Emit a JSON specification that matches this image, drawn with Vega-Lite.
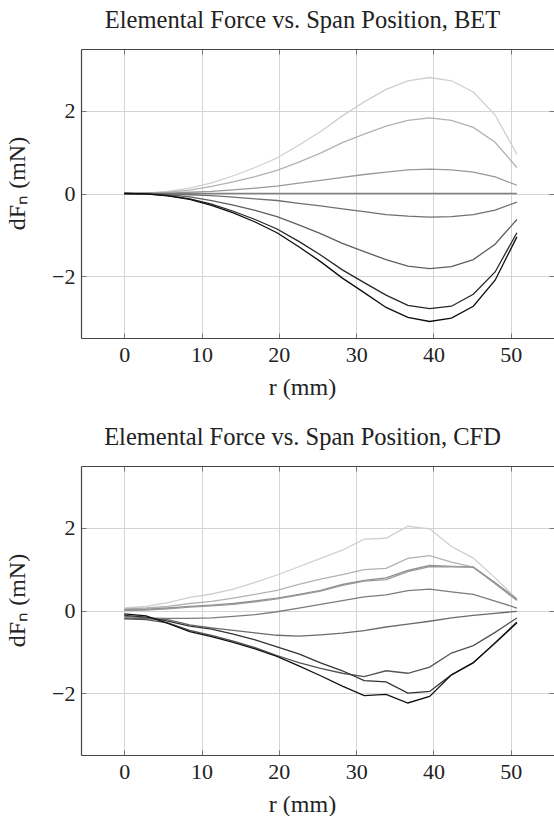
{
"$schema": "https://vega.github.io/schema/vega-lite/v6.json",
"padding": {"left": 5, "top": 7, "right": 0, "bottom": 0},
"background": "white",
"config": {
  "font": "Liberation Serif",
  "view": {"stroke": null},
  "concat": {"spacing": 25},
  "title": {"font": "Liberation Serif", "fontSize": 24.5, "fontWeight": "normal", "color": "#222222", "anchor": "middle", "frame": "group", "baseline": "alphabetic", "offset": 15.5, "dx": -15},
  "axis": {"labelFont": "Liberation Serif", "labelFontSize": 22, "labelColor": "#222222", "titleFont": "Liberation Serif", "titleFontSize": 24, "titleFontWeight": "normal", "titleColor": "#222222", "gridColor": "#d4d4d4", "gridWidth": 1, "domainColor": "#444444", "domainWidth": 1.2, "tickColor": "#777777", "tickSize": -5, "tickWidth": 1}
},
"resolve": {"scale": {"color": "independent"}},
"datasets": {
"bet": [
{"s":"L1","r":0,"f":0},{"s":"L1","r":2.82,"f":0.01},{"s":"L1","r":5.64,"f":0.05},{"s":"L1","r":8.47,"f":0.13},{"s":"L1","r":11.29,"f":0.26},{"s":"L1","r":14.11,"f":0.43},{"s":"L1","r":16.93,"f":0.63},{"s":"L1","r":19.76,"f":0.86},{"s":"L1","r":22.58,"f":1.17},{"s":"L1","r":25.4,"f":1.5},{"s":"L1","r":28.22,"f":1.88},{"s":"L1","r":31.04,"f":2.22},{"s":"L1","r":33.87,"f":2.52},{"s":"L1","r":36.69,"f":2.73},{"s":"L1","r":39.51,"f":2.81},{"s":"L1","r":42.33,"f":2.73},{"s":"L1","r":45.16,"f":2.46},{"s":"L1","r":47.98,"f":1.9},{"s":"L1","r":50.8,"f":0.95},
{"s":"L2","r":0,"f":0},{"s":"L2","r":2.82,"f":0.01},{"s":"L2","r":5.64,"f":0.03},{"s":"L2","r":8.47,"f":0.08},{"s":"L2","r":11.29,"f":0.17},{"s":"L2","r":14.11,"f":0.28},{"s":"L2","r":16.93,"f":0.41},{"s":"L2","r":19.76,"f":0.56},{"s":"L2","r":22.58,"f":0.76},{"s":"L2","r":25.4,"f":0.98},{"s":"L2","r":28.22,"f":1.23},{"s":"L2","r":31.04,"f":1.44},{"s":"L2","r":33.87,"f":1.63},{"s":"L2","r":36.69,"f":1.77},{"s":"L2","r":39.51,"f":1.83},{"s":"L2","r":42.33,"f":1.77},{"s":"L2","r":45.16,"f":1.6},{"s":"L2","r":47.98,"f":1.24},{"s":"L2","r":50.8,"f":0.63},
{"s":"L3","r":0,"f":0},{"s":"L3","r":2.82,"f":0},{"s":"L3","r":5.64,"f":0.01},{"s":"L3","r":8.47,"f":0.03},{"s":"L3","r":11.29,"f":0.05},{"s":"L3","r":14.11,"f":0.09},{"s":"L3","r":16.93,"f":0.13},{"s":"L3","r":19.76,"f":0.18},{"s":"L3","r":22.58,"f":0.25},{"s":"L3","r":25.4,"f":0.32},{"s":"L3","r":28.22,"f":0.39},{"s":"L3","r":31.04,"f":0.46},{"s":"L3","r":33.87,"f":0.52},{"s":"L3","r":36.69,"f":0.57},{"s":"L3","r":39.51,"f":0.59},{"s":"L3","r":42.33,"f":0.57},{"s":"L3","r":45.16,"f":0.52},{"s":"L3","r":47.98,"f":0.4},{"s":"L3","r":50.8,"f":0.2},
{"s":"Z","r":0,"f":0},{"s":"Z","r":2.82,"f":0},{"s":"Z","r":5.64,"f":0},{"s":"Z","r":8.47,"f":0},{"s":"Z","r":11.29,"f":0},{"s":"Z","r":14.11,"f":0},{"s":"Z","r":16.93,"f":0},{"s":"Z","r":19.76,"f":0},{"s":"Z","r":22.58,"f":0},{"s":"Z","r":25.4,"f":0},{"s":"Z","r":28.22,"f":0},{"s":"Z","r":31.04,"f":0},{"s":"Z","r":33.87,"f":0},{"s":"Z","r":36.69,"f":0},{"s":"Z","r":39.51,"f":0},{"s":"Z","r":42.33,"f":0},{"s":"Z","r":45.16,"f":0},{"s":"Z","r":47.98,"f":0},{"s":"Z","r":50.8,"f":0},
{"s":"D1","r":0,"f":0},{"s":"D1","r":2.82,"f":0},{"s":"D1","r":5.64,"f":-0.01},{"s":"D1","r":8.47,"f":-0.03},{"s":"D1","r":11.29,"f":-0.05},{"s":"D1","r":14.11,"f":-0.09},{"s":"D1","r":16.93,"f":-0.13},{"s":"D1","r":19.76,"f":-0.17},{"s":"D1","r":22.58,"f":-0.24},{"s":"D1","r":25.4,"f":-0.3},{"s":"D1","r":28.22,"f":-0.37},{"s":"D1","r":31.04,"f":-0.44},{"s":"D1","r":33.87,"f":-0.51},{"s":"D1","r":36.69,"f":-0.55},{"s":"D1","r":39.51,"f":-0.57},{"s":"D1","r":42.33,"f":-0.56},{"s":"D1","r":45.16,"f":-0.51},{"s":"D1","r":47.98,"f":-0.4},{"s":"D1","r":50.8,"f":-0.21},
{"s":"D2","r":0,"f":0},{"s":"D2","r":2.82,"f":-0.01},{"s":"D2","r":5.64,"f":-0.03},{"s":"D2","r":8.47,"f":-0.08},{"s":"D2","r":11.29,"f":-0.17},{"s":"D2","r":14.11,"f":-0.28},{"s":"D2","r":16.93,"f":-0.41},{"s":"D2","r":19.76,"f":-0.56},{"s":"D2","r":22.58,"f":-0.76},{"s":"D2","r":25.4,"f":-0.97},{"s":"D2","r":28.22,"f":-1.21},{"s":"D2","r":31.04,"f":-1.41},{"s":"D2","r":33.87,"f":-1.6},{"s":"D2","r":36.69,"f":-1.76},{"s":"D2","r":39.51,"f":-1.82},{"s":"D2","r":42.33,"f":-1.77},{"s":"D2","r":45.16,"f":-1.6},{"s":"D2","r":47.98,"f":-1.23},{"s":"D2","r":50.8,"f":-0.63},
{"s":"D3","r":0,"f":0},{"s":"D3","r":2.82,"f":-0.01},{"s":"D3","r":5.64,"f":-0.05},{"s":"D3","r":8.47,"f":-0.13},{"s":"D3","r":11.29,"f":-0.26},{"s":"D3","r":14.11,"f":-0.43},{"s":"D3","r":16.93,"f":-0.63},{"s":"D3","r":19.76,"f":-0.86},{"s":"D3","r":22.58,"f":-1.16},{"s":"D3","r":25.4,"f":-1.49},{"s":"D3","r":28.22,"f":-1.85},{"s":"D3","r":31.04,"f":-2.16},{"s":"D3","r":33.87,"f":-2.46},{"s":"D3","r":36.69,"f":-2.71},{"s":"D3","r":39.51,"f":-2.79},{"s":"D3","r":42.33,"f":-2.73},{"s":"D3","r":45.16,"f":-2.44},{"s":"D3","r":47.98,"f":-1.9},{"s":"D3","r":50.8,"f":-0.95},
{"s":"D4","r":0,"f":0},{"s":"D4","r":2.82,"f":-0.01},{"s":"D4","r":5.64,"f":-0.06},{"s":"D4","r":8.47,"f":-0.14},{"s":"D4","r":11.29,"f":-0.29},{"s":"D4","r":14.11,"f":-0.47},{"s":"D4","r":16.93,"f":-0.69},{"s":"D4","r":19.76,"f":-0.95},{"s":"D4","r":22.58,"f":-1.29},{"s":"D4","r":25.4,"f":-1.65},{"s":"D4","r":28.22,"f":-2.05},{"s":"D4","r":31.04,"f":-2.4},{"s":"D4","r":33.87,"f":-2.76},{"s":"D4","r":36.69,"f":-3.0},{"s":"D4","r":39.51,"f":-3.1},{"s":"D4","r":42.33,"f":-3.02},{"s":"D4","r":45.16,"f":-2.73},{"s":"D4","r":47.98,"f":-2.1},{"s":"D4","r":50.8,"f":-1.05}
],
"cfd": [
{"s":"C1","r":0,"f":0.06},{"s":"C1","r":2.82,"f":0.1},{"s":"C1","r":5.64,"f":0.19},{"s":"C1","r":8.47,"f":0.32},{"s":"C1","r":11.29,"f":0.4},{"s":"C1","r":14.11,"f":0.52},{"s":"C1","r":16.93,"f":0.68},{"s":"C1","r":19.76,"f":0.86},{"s":"C1","r":22.58,"f":1.06},{"s":"C1","r":25.4,"f":1.26},{"s":"C1","r":28.22,"f":1.46},{"s":"C1","r":31.04,"f":1.73},{"s":"C1","r":33.87,"f":1.75},{"s":"C1","r":36.69,"f":2.04},{"s":"C1","r":39.51,"f":1.98},{"s":"C1","r":42.33,"f":1.55},{"s":"C1","r":45.16,"f":1.27},{"s":"C1","r":47.98,"f":0.79},{"s":"C1","r":50.8,"f":0.28},
{"s":"C2","r":0,"f":0.04},{"s":"C2","r":2.82,"f":0.06},{"s":"C2","r":5.64,"f":0.1},{"s":"C2","r":8.47,"f":0.17},{"s":"C2","r":11.29,"f":0.22},{"s":"C2","r":14.11,"f":0.3},{"s":"C2","r":16.93,"f":0.39},{"s":"C2","r":19.76,"f":0.49},{"s":"C2","r":22.58,"f":0.63},{"s":"C2","r":25.4,"f":0.76},{"s":"C2","r":28.22,"f":0.87},{"s":"C2","r":31.04,"f":0.99},{"s":"C2","r":33.87,"f":1.02},{"s":"C2","r":36.69,"f":1.26},{"s":"C2","r":39.51,"f":1.33},{"s":"C2","r":42.33,"f":1.17},{"s":"C2","r":45.16,"f":1.05},{"s":"C2","r":47.98,"f":0.67},{"s":"C2","r":50.8,"f":0.27},
{"s":"C3","r":0,"f":0.02},{"s":"C3","r":2.82,"f":0.03},{"s":"C3","r":5.64,"f":0.06},{"s":"C3","r":8.47,"f":0.1},{"s":"C3","r":11.29,"f":0.13},{"s":"C3","r":14.11,"f":0.17},{"s":"C3","r":16.93,"f":0.23},{"s":"C3","r":19.76,"f":0.3},{"s":"C3","r":22.58,"f":0.39},{"s":"C3","r":25.4,"f":0.49},{"s":"C3","r":28.22,"f":0.63},{"s":"C3","r":31.04,"f":0.73},{"s":"C3","r":33.87,"f":0.79},{"s":"C3","r":36.69,"f":0.97},{"s":"C3","r":39.51,"f":1.09},{"s":"C3","r":42.33,"f":1.07},{"s":"C3","r":45.16,"f":1.05},{"s":"C3","r":47.98,"f":0.67},{"s":"C3","r":50.8,"f":0.27},
{"s":"C4","r":0,"f":0.0},{"s":"C4","r":2.82,"f":0.01},{"s":"C4","r":5.64,"f":0.04},{"s":"C4","r":8.47,"f":0.08},{"s":"C4","r":11.29,"f":0.11},{"s":"C4","r":14.11,"f":0.15},{"s":"C4","r":16.93,"f":0.21},{"s":"C4","r":19.76,"f":0.28},{"s":"C4","r":22.58,"f":0.37},{"s":"C4","r":25.4,"f":0.47},{"s":"C4","r":28.22,"f":0.61},{"s":"C4","r":31.04,"f":0.71},{"s":"C4","r":33.87,"f":0.75},{"s":"C4","r":36.69,"f":0.94},{"s":"C4","r":39.51,"f":1.06},{"s":"C4","r":42.33,"f":1.06},{"s":"C4","r":45.16,"f":1.05},{"s":"C4","r":47.98,"f":0.65},{"s":"C4","r":50.8,"f":0.24},
{"s":"C5","r":0,"f":-0.14},{"s":"C5","r":2.82,"f":-0.18},{"s":"C5","r":5.64,"f":-0.19},{"s":"C5","r":8.47,"f":-0.19},{"s":"C5","r":11.29,"f":-0.18},{"s":"C5","r":14.11,"f":-0.14},{"s":"C5","r":16.93,"f":-0.1},{"s":"C5","r":19.76,"f":-0.03},{"s":"C5","r":22.58,"f":0.06},{"s":"C5","r":25.4,"f":0.15},{"s":"C5","r":28.22,"f":0.24},{"s":"C5","r":31.04,"f":0.33},{"s":"C5","r":33.87,"f":0.38},{"s":"C5","r":36.69,"f":0.48},{"s":"C5","r":39.51,"f":0.52},{"s":"C5","r":42.33,"f":0.45},{"s":"C5","r":45.16,"f":0.39},{"s":"C5","r":47.98,"f":0.23},{"s":"C5","r":50.8,"f":0.06},
{"s":"C6","r":0,"f":-0.18},{"s":"C6","r":2.82,"f":-0.2},{"s":"C6","r":5.64,"f":-0.22},{"s":"C6","r":8.47,"f":-0.35},{"s":"C6","r":11.29,"f":-0.42},{"s":"C6","r":14.11,"f":-0.48},{"s":"C6","r":16.93,"f":-0.54},{"s":"C6","r":19.76,"f":-0.6},{"s":"C6","r":22.58,"f":-0.62},{"s":"C6","r":25.4,"f":-0.59},{"s":"C6","r":28.22,"f":-0.55},{"s":"C6","r":31.04,"f":-0.49},{"s":"C6","r":33.87,"f":-0.4},{"s":"C6","r":36.69,"f":-0.33},{"s":"C6","r":39.51,"f":-0.26},{"s":"C6","r":42.33,"f":-0.18},{"s":"C6","r":45.16,"f":-0.12},{"s":"C6","r":47.98,"f":-0.07},{"s":"C6","r":50.8,"f":-0.02},
{"s":"C7","r":0,"f":-0.2},{"s":"C7","r":2.82,"f":-0.22},{"s":"C7","r":5.64,"f":-0.3},{"s":"C7","r":8.47,"f":-0.48},{"s":"C7","r":11.29,"f":-0.6},{"s":"C7","r":14.11,"f":-0.74},{"s":"C7","r":16.93,"f":-0.9},{"s":"C7","r":19.76,"f":-1.09},{"s":"C7","r":22.58,"f":-1.26},{"s":"C7","r":25.4,"f":-1.4},{"s":"C7","r":28.22,"f":-1.52},{"s":"C7","r":31.04,"f":-1.6},{"s":"C7","r":33.87,"f":-1.46},{"s":"C7","r":36.69,"f":-1.52},{"s":"C7","r":39.51,"f":-1.37},{"s":"C7","r":42.33,"f":-1.03},{"s":"C7","r":45.16,"f":-0.85},{"s":"C7","r":47.98,"f":-0.53},{"s":"C7","r":50.8,"f":-0.18},
{"s":"C8","r":0,"f":-0.12},{"s":"C8","r":2.82,"f":-0.16},{"s":"C8","r":5.64,"f":-0.26},{"s":"C8","r":8.47,"f":-0.38},{"s":"C8","r":11.29,"f":-0.45},{"s":"C8","r":14.11,"f":-0.57},{"s":"C8","r":16.93,"f":-0.71},{"s":"C8","r":19.76,"f":-0.88},{"s":"C8","r":22.58,"f":-1.05},{"s":"C8","r":25.4,"f":-1.27},{"s":"C8","r":28.22,"f":-1.46},{"s":"C8","r":31.04,"f":-1.7},{"s":"C8","r":33.87,"f":-1.73},{"s":"C8","r":36.69,"f":-2.0},{"s":"C8","r":39.51,"f":-1.96},{"s":"C8","r":42.33,"f":-1.56},{"s":"C8","r":45.16,"f":-1.27},{"s":"C8","r":47.98,"f":-0.78},{"s":"C8","r":50.8,"f":-0.28},
{"s":"C9","r":0,"f":-0.08},{"s":"C9","r":2.82,"f":-0.13},{"s":"C9","r":5.64,"f":-0.31},{"s":"C9","r":8.47,"f":-0.51},{"s":"C9","r":11.29,"f":-0.63},{"s":"C9","r":14.11,"f":-0.77},{"s":"C9","r":16.93,"f":-0.93},{"s":"C9","r":19.76,"f":-1.11},{"s":"C9","r":22.58,"f":-1.34},{"s":"C9","r":25.4,"f":-1.58},{"s":"C9","r":28.22,"f":-1.83},{"s":"C9","r":31.04,"f":-2.06},{"s":"C9","r":33.87,"f":-2.03},{"s":"C9","r":36.69,"f":-2.24},{"s":"C9","r":39.51,"f":-2.08},{"s":"C9","r":42.33,"f":-1.56},{"s":"C9","r":45.16,"f":-1.26},{"s":"C9","r":47.98,"f":-0.79},{"s":"C9","r":50.8,"f":-0.3}
]
},
"vconcat": [
{
  "title": {"text": "Elemental Force vs. Span Position, BET"},
  "width": 473, "height": 289,
  "data": {"name": "bet"},
  "layer": [
    {"mark": {"type": "line", "strokeWidth": 1.3},
     "encoding": {
       "x": {"field": "r", "type": "quantitative", "scale": {"domain": [-5.6, 55.6], "nice": false, "zero": false},
             "axis": {"orient": "bottom", "values": [0,10,20,30,40,50], "format": "d", "grid": true, "title": "r (mm)", "labelPadding": 11, "titlePadding": 10, "titleX": 221}},
       "y": {"field": "f", "type": "quantitative", "scale": {"domain": [-3.5, 3.5], "nice": false},
             "axis": {"orient": "left", "values": [-2,0,2], "format": "d", "grid": true, "title": "dFₙ (mN)", "labelPadding": 11, "titlePadding": 22, "titleY": 134}},
       "color": {"field": "s", "type": "nominal", "legend": null,
                 "scale": {"domain": ["L1","L2","L3","Z","D1","D2","D3","D4"], "range": ["#cfcfcf","#b2b2b2","#999999","#808080","#707070","#5e5e5e","#262626","#0d0d0d"]}}
     }},
    {"mark": {"type": "point", "opacity": 0},
     "encoding": {
       "x": {"field": "r", "type": "quantitative", "axis": {"orient": "top", "values": [0,10,20,30,40,50], "labels": false, "grid": false, "title": null}},
       "y": {"field": "f", "type": "quantitative", "axis": {"orient": "right", "values": [-2,0,2], "labels": false, "grid": false, "domain": false, "title": null}}
     }}
  ],
  "resolve": {"axis": {"x": "independent", "y": "independent"}}
},
{
  "title": {"text": "Elemental Force vs. Span Position, CFD"},
  "width": 473, "height": 289,
  "data": {"name": "cfd"},
  "layer": [
    {"mark": {"type": "line", "strokeWidth": 1.3},
     "encoding": {
       "x": {"field": "r", "type": "quantitative", "scale": {"domain": [-5.6, 55.6], "nice": false, "zero": false},
             "axis": {"orient": "bottom", "values": [0,10,20,30,40,50], "format": "d", "grid": true, "title": "r (mm)", "labelPadding": 11, "titlePadding": 10, "titleX": 221}},
       "y": {"field": "f", "type": "quantitative", "scale": {"domain": [-3.5, 3.5], "nice": false},
             "axis": {"orient": "left", "values": [-2,0,2], "format": "d", "grid": true, "title": "dFₙ (mN)", "labelPadding": 11, "titlePadding": 22, "titleY": 134}},
       "color": {"field": "s", "type": "nominal", "legend": null,
                 "scale": {"domain": ["C1","C2","C3","C4","C5","C6","C7","C8","C9"], "range": ["#cfcfcf","#b2b2b2","#8f8f8f","#9a9a9a","#7c7c7c","#6a6a6a","#545454","#333333","#111111"]}}
     }},
    {"mark": {"type": "point", "opacity": 0},
     "encoding": {
       "x": {"field": "r", "type": "quantitative", "axis": {"orient": "top", "values": [0,10,20,30,40,50], "labels": false, "grid": false, "title": null}},
       "y": {"field": "f", "type": "quantitative", "axis": {"orient": "right", "values": [-2,0,2], "labels": false, "grid": false, "domain": false, "title": null}}
     }}
  ],
  "resolve": {"axis": {"x": "independent", "y": "independent"}}
}
]
}
